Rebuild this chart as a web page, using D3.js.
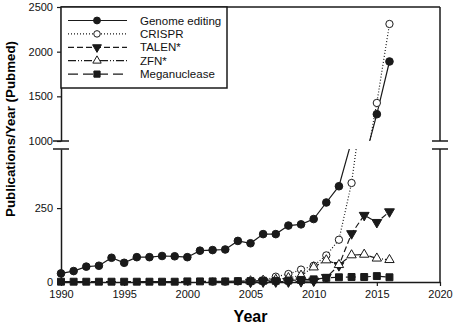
<!DOCTYPE html>
<html>
<head>
<meta charset="utf-8">
<script src="https://cdn.jsdelivr.net/npm/d3@7"></script>
<style>
  body { margin: 0; background: #fff; }
  text { font-family: "Liberation Sans", Arial, sans-serif; }
</style>
</head>
<body>
<div id="chart-area"></div>
<script>
// DATA
const years = [1990, 1991, 1992, 1993, 1994, 1995, 1996, 1997, 1998, 1999, 2000, 2001, 2002, 2003,
  2004, 2005, 2006, 2007, 2008, 2009, 2010, 2011, 2012, 2013, 2014, 2015, 2016]
const genomeEditing = [29, 37, 52, 55, 82, 65, 84, 84, 88, 87, 84, 106, 108, 110,
  139, 131, 162, 162, 191, 195, 213, 269, 324, 477, 770, 1300, 1890]
const crispr = [null, null, null, null, null, null, null, null, null, null, null, null, 1, 1,
  2, 3, 6, 18, 27, 42, 55, 90, 143, 335, 650, 1426, 2310]
const talen = [null, null, null, null, null, null, null, null, null, null, null, null, null, null,
  null, 0, 1, 1, 1, 2, 4, 16, 56, 164, 226, 202, 238]
const zfn = [null, null, null, null, null, null, null, null, null, null, null, null, null, null,
  null, 3, 5, 8, 14, 22, 50, 74, 58, 91, 93, 80, 75]
const meganuclease = [1, 1, 1, 1, 1, 1, 1, 1, 1, 1, 2, 2, 2, 2,
  3, 3, 4, 4, 5, 7, 9, 14, 16, 17, 17, 20, 16]

const xTicks = [1990, 1995, 2000, 2005, 2010, 2015, 2020]
const yLowTicks = [0, 250]
const yHighTicks = [1000, 1500, 2000, 2500]

const WIDTH = 454
const HEIGHT = 331
const LEFT = 61, RIGHT = 440, TOP = 7, BOTTOM = 282
const BREAK_HI = 141, BREAK_LO = 149
const INK = "#1a1a1a"

const svg = d3.select("#chart-area").append("svg")
  .attr("width", WIDTH)
  .attr("height", HEIGHT)

// SCALES
const x = d3.scaleLinear().domain([1990, 2020]).range([LEFT, RIGHT])
const yLow = d3.scaleLinear().domain([0, 450]).range([BOTTOM, BREAK_LO])
const yHigh = d3.scaleLinear().domain([1000, 2500]).range([BREAK_HI, TOP])

const downTriangle = {
  draw(ctx, size) {
    const s = Math.sqrt(size * 4 / Math.sqrt(3))
    const h = s * Math.sqrt(3) / 2
    ctx.moveTo(0, h * 2 / 3)
    ctx.lineTo(s / 2, -h / 3)
    ctx.lineTo(-s / 2, -h / 3)
    ctx.closePath()
  }
}
const upTriangle = {
  draw(ctx, size) {
    const s = Math.sqrt(size * 4 / Math.sqrt(3))
    const h = s * Math.sqrt(3) / 2
    ctx.moveTo(0, -h * 2 / 3)
    ctx.lineTo(s / 2, h / 3)
    ctx.lineTo(-s / 2, h / 3)
    ctx.closePath()
  }
}

const series = [
  { name: "Genome editing", values: genomeEditing, symbol: d3.symbolCircle, size: 46, fill: INK, dash: null },
  { name: "CRISPR", values: crispr, symbol: d3.symbolCircle, size: 42, fill: "#fff", dash: "1,2" },
  { name: "TALEN*", values: talen, symbol: downTriangle, size: 42, fill: INK, dash: "6,3" },
  { name: "ZFN*", values: zfn, symbol: upTriangle, size: 38, fill: "#fff", dash: "8,2,1,2,1,2" },
  { name: "Meganuclease", values: meganuclease, symbol: d3.symbolSquare, size: 48, fill: INK, dash: "10,5" }
]

// CLIP PATHS for the two axis segments
const defs = svg.append("defs")
defs.append("clipPath").attr("id", "clip-low").append("rect")
  .attr("x", LEFT).attr("y", BREAK_LO).attr("width", RIGHT - LEFT).attr("height", BOTTOM - BREAK_LO + 3)
defs.append("clipPath").attr("id", "clip-high").append("rect")
  .attr("x", LEFT).attr("y", TOP).attr("width", RIGHT - LEFT).attr("height", BREAK_HI - TOP)

const segments = [
  { y: yLow, clip: "clip-low", lo: 0, hi: 450 },
  { y: yHigh, clip: "clip-high", lo: 1000, hi: 2500 }
]

const plot = svg.append("g")

// LINES
series.forEach(s => {
  const pts = years.map((yr, i) => ({ year: yr, v: s.values[i] }))
  segments.forEach(seg => {
    const line = d3.line()
      .defined(d => d.v != null)
      .x(d => x(d.year))
      .y(d => seg.y(d.v))
    plot.append("path")
      .datum(pts)
      .attr("clip-path", `url(#${seg.clip})`)
      .attr("fill", "none")
      .attr("stroke", INK)
      .attr("stroke-width", 1.2)
      .attr("stroke-dasharray", s.dash)
      .attr("d", line)
  })
})

// MARKERS
series.forEach(s => {
  const pts = years.map((yr, i) => ({ year: yr, v: s.values[i] })).filter(d => d.v != null)
  segments.forEach(seg => {
    plot.selectAll(null)
      .data(pts.filter(d => d.v >= seg.lo && d.v <= seg.hi))
      .enter().append("path")
      .attr("transform", d => `translate(${x(d.year)}, ${seg.y(d.v)})`)
      .attr("d", d3.symbol().type(s.symbol).size(s.size))
      .attr("fill", s.fill)
      .attr("stroke", INK)
      .attr("stroke-width", 1)
  })
})

// AXES
const styleAxis = g => {
  g.selectAll(".domain").attr("stroke", INK).attr("stroke-width", 1.5)
  g.selectAll(".tick line").attr("stroke", INK).attr("stroke-width", 1.2)
  g.selectAll(".tick text").attr("font-family", "Liberation Sans, Arial, sans-serif")
    .attr("font-size", 11).attr("fill", "#111")
}

svg.append("g")
  .attr("transform", `translate(0, ${BOTTOM})`)
  .call(d3.axisBottom(x).tickValues(xTicks).tickFormat(d3.format("d")).tickSize(4).tickSizeOuter(0).tickPadding(4))
  .call(styleAxis)

svg.append("g")
  .attr("transform", `translate(${LEFT}, 0)`)
  .call(d3.axisLeft(yLow).tickValues(yLowTicks).tickFormat(d3.format("d")).tickSize(4).tickSizeOuter(0).tickPadding(4))
  .call(styleAxis)

svg.append("g")
  .attr("transform", `translate(${LEFT}, 0)`)
  .call(d3.axisLeft(yHigh).tickValues(yHighTicks).tickFormat(d3.format("d")).tickSize(4).tickSizeOuter(0).tickPadding(4))
  .call(styleAxis)

// frame: top and right side (with break)
const frame = svg.append("g").attr("stroke", INK).attr("stroke-width", 1.5)
frame.append("line").attr("x1", LEFT).attr("x2", RIGHT).attr("y1", TOP).attr("y2", TOP)
frame.append("line").attr("x1", RIGHT).attr("x2", RIGHT).attr("y1", TOP).attr("y2", BREAK_HI)
frame.append("line").attr("x1", RIGHT).attr("x2", RIGHT).attr("y1", BREAK_LO).attr("y2", BOTTOM)

// break marks
;[LEFT, RIGHT].forEach(ax => {
  [BREAK_HI, BREAK_LO].forEach(by => {
    frame.append("line").attr("x1", ax - 8).attr("x2", ax + 8).attr("y1", by).attr("y2", by)
  })
})

// LEGEND
const legend = svg.append("g")
legend.append("rect")
  .attr("x", LEFT).attr("y", TOP)
  .attr("width", 227 - LEFT).attr("height", 88 - TOP)
  .attr("fill", "#fff").attr("stroke", INK).attr("stroke-width", 1.5)

series.forEach((s, i) => {
  const ly = 20.5 + i * 13.4
  const row = legend.append("g").attr("transform", `translate(0, ${ly})`)
  row.append("line")
    .attr("x1", 68).attr("x2", 127)
    .attr("stroke", INK).attr("stroke-width", 1.2)
    .attr("stroke-dasharray", s.dash)
  row.append("path")
    .attr("transform", "translate(97, 0)")
    .attr("d", d3.symbol().type(s.symbol).size(s.size * 0.8))
    .attr("fill", s.fill).attr("stroke", INK).attr("stroke-width", 1)
  row.append("text")
    .attr("x", 140).attr("y", 4)
    .attr("font-size", 11.5)
    .attr("fill", "#111")
    .text(s.name)
})

// LABELS
svg.append("text")
  .attr("x", (LEFT + RIGHT) / 2)
  .attr("y", 322)
  .attr("text-anchor", "middle")
  .attr("font-size", 16)
  .attr("font-weight", "bold")
  .text("Year")

svg.append("text")
  .attr("transform", "translate(15, 129) rotate(-90)")
  .attr("text-anchor", "middle")
  .attr("font-size", 13.3)
  .attr("font-weight", "bold")
  .text("Publications/Year (Pubmed)")
</script>
</body>
</html>
